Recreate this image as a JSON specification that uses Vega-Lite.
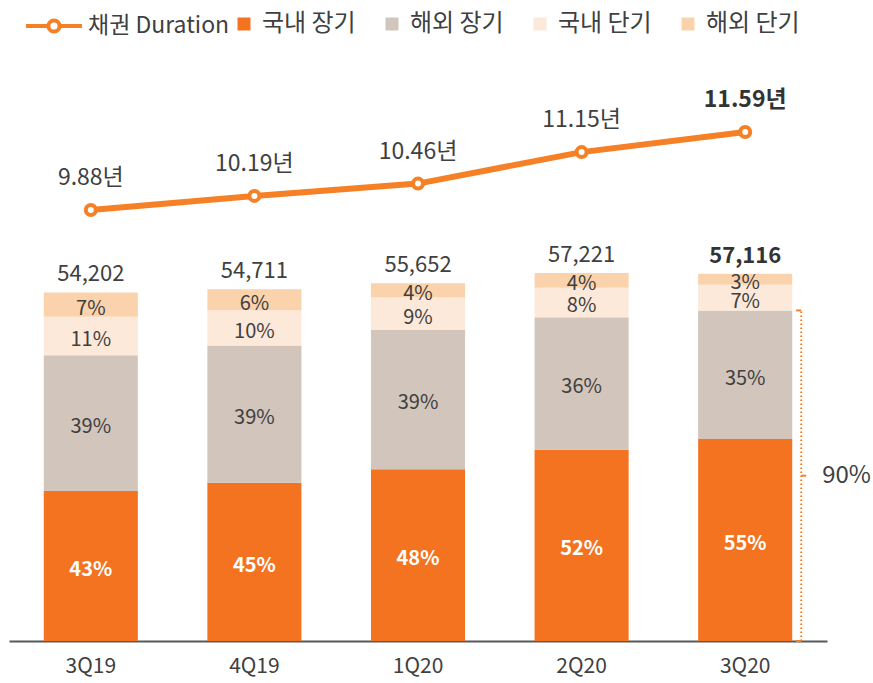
{
  "$schema": "https://vega.github.io/schema/vega-lite/v6.json",
  "width": 818,
  "height": 581,
  "autosize": "none",
  "padding": {"left": 9, "top": 60, "right": 46, "bottom": 42},
  "background": "white",
  "config": {
    "view": {"stroke": null},
    "font": "Noto Sans CJK KR",
    "text": {"font": "Noto Sans CJK KR"},
    "legend": {"labelFont": "Noto Sans CJK KR", "padding": 0}
  },
  "datasets": {
    "bars": [
      {"q": "3Q19", "seg": "국내 장기", "order": 1, "amt": 23307, "p": 0.43},
      {"q": "3Q19", "seg": "해외 장기", "order": 2, "amt": 21139, "p": 0.39},
      {"q": "3Q19", "seg": "국내 단기", "order": 3, "amt": 5962, "p": 0.11},
      {"q": "3Q19", "seg": "해외 단기", "order": 4, "amt": 3794, "p": 0.07},
      {"q": "4Q19", "seg": "국내 장기", "order": 1, "amt": 24620, "p": 0.45},
      {"q": "4Q19", "seg": "해외 장기", "order": 2, "amt": 21337, "p": 0.39},
      {"q": "4Q19", "seg": "국내 단기", "order": 3, "amt": 5471, "p": 0.10},
      {"q": "4Q19", "seg": "해외 단기", "order": 4, "amt": 3283, "p": 0.06},
      {"q": "1Q20", "seg": "국내 장기", "order": 1, "amt": 26713, "p": 0.48},
      {"q": "1Q20", "seg": "해외 장기", "order": 2, "amt": 21704, "p": 0.39},
      {"q": "1Q20", "seg": "국내 단기", "order": 3, "amt": 5009, "p": 0.09},
      {"q": "1Q20", "seg": "해외 단기", "order": 4, "amt": 2226, "p": 0.04},
      {"q": "2Q20", "seg": "국내 장기", "order": 1, "amt": 29755, "p": 0.52},
      {"q": "2Q20", "seg": "해외 장기", "order": 2, "amt": 20600, "p": 0.36},
      {"q": "2Q20", "seg": "국내 단기", "order": 3, "amt": 4578, "p": 0.08},
      {"q": "2Q20", "seg": "해외 단기", "order": 4, "amt": 2288, "p": 0.04},
      {"q": "3Q20", "seg": "국내 장기", "order": 1, "amt": 31414, "p": 0.55},
      {"q": "3Q20", "seg": "해외 장기", "order": 2, "amt": 19991, "p": 0.35},
      {"q": "3Q20", "seg": "국내 단기", "order": 3, "amt": 3998, "p": 0.07},
      {"q": "3Q20", "seg": "해외 단기", "order": 4, "amt": 1713, "p": 0.03}
    ],
    "totals": [
      {"q": "3Q19", "total": 54202, "latest": false},
      {"q": "4Q19", "total": 54711, "latest": false},
      {"q": "1Q20", "total": 55652, "latest": false},
      {"q": "2Q20", "total": 57221, "latest": false},
      {"q": "3Q20", "total": 57116, "latest": true}
    ],
    "dur": [
      {"q": "3Q19", "series": "채권 Duration", "d": 9.88, "label": "9.88년", "latest": false},
      {"q": "4Q19", "series": "채권 Duration", "d": 10.19, "label": "10.19년", "latest": false},
      {"q": "1Q20", "series": "채권 Duration", "d": 10.46, "label": "10.46년", "latest": false},
      {"q": "2Q20", "series": "채권 Duration", "d": 11.15, "label": "11.15년", "latest": false},
      {"q": "3Q20", "series": "채권 Duration", "d": 11.59, "label": "11.59년", "latest": true}
    ]
  },
  "layer": [
    {
      "layer": [
        {
          "data": {"name": "bars"},
          "mark": {"type": "bar"},
          "encoding": {
            "x": {
              "field": "q", "type": "nominal", "sort": null, "title": null,
              "scale": {"paddingInner": 0.425, "paddingOuter": 0.2125},
              "axis": {
                "labelAngle": 0, "labelFont": "Noto Sans CJK KR", "labelFontSize": 21,
                "labelColor": "#404040", "labelPadding": 14, "ticks": false,
                "domainColor": "#595959", "domainWidth": 2, "grid": false
              }
            },
            "y": {
              "field": "amt", "type": "quantitative", "stack": "zero",
              "scale": {"domain": [0, 90350], "nice": false, "zero": true},
              "axis": null
            },
            "color": {
              "field": "seg", "type": "nominal",
              "scale": {
                "domain": ["국내 장기", "해외 장기", "국내 단기", "해외 단기"],
                "range": ["#F37321", "#D2C5BB", "#FDE9DA", "#FAD3AD"]
              },
              "legend": {
                "title": null, "orient": "none", "direction": "horizontal", "columns": 4,
                "legendX": 223, "legendY": -48,
                "symbolType": "square", "symbolSize": 169, "symbolStrokeWidth": 0,
                "labelFontSize": 24, "labelColor": "#404040", "labelOffset": 6,
                "columnPadding": 24
              }
            },
            "order": {"field": "order", "type": "quantitative", "sort": "ascending"}
          }
        },
        {
          "data": {"name": "bars"},
          "transform": [
            {"stack": "amt", "groupby": ["q"], "sort": [{"field": "order", "order": "ascending"}], "as": ["s0", "s1"]},
            {"calculate": "(datum.s0 + datum.s1) / 2", "as": "mid"},
            {"filter": "datum.order > 1"}
          ],
          "mark": {"type": "text", "fontSize": 20, "color": "#404040", "baseline": "middle", "dy": 4},
          "encoding": {
            "x": {"field": "q", "type": "nominal", "sort": null, "title": null},
            "y": {"field": "mid", "type": "quantitative", "scale": {"domain": [0, 90350], "nice": false}, "axis": null},
            "text": {"field": "p", "type": "quantitative", "format": ".0%"}
          }
        },
        {
          "data": {"name": "bars"},
          "transform": [
            {"stack": "amt", "groupby": ["q"], "sort": [{"field": "order", "order": "ascending"}], "as": ["s0", "s1"]},
            {"calculate": "(datum.s0 + datum.s1) / 2", "as": "mid"},
            {"filter": "datum.order == 1"}
          ],
          "mark": {"type": "text", "fontSize": 20, "fontWeight": "bold", "color": "white", "baseline": "middle", "dy": 4},
          "encoding": {
            "x": {"field": "q", "type": "nominal", "sort": null, "title": null},
            "y": {"field": "mid", "type": "quantitative", "scale": {"domain": [0, 90350], "nice": false}, "axis": null},
            "text": {"field": "p", "type": "quantitative", "format": ".0%"}
          }
        },
        {
          "data": {"name": "totals"},
          "transform": [{"filter": "!datum.latest"}],
          "mark": {"type": "text", "fontSize": 22, "color": "#404040", "baseline": "alphabetic", "dy": -11},
          "encoding": {
            "x": {"field": "q", "type": "nominal", "sort": null, "title": null},
            "y": {"field": "total", "type": "quantitative", "scale": {"domain": [0, 90350], "nice": false}, "axis": null},
            "text": {"field": "total", "type": "quantitative", "format": ","}
          }
        },
        {
          "data": {"name": "totals"},
          "transform": [{"filter": "datum.latest"}],
          "mark": {"type": "text", "fontSize": 22, "fontWeight": "bold", "color": "#333333", "baseline": "alphabetic", "dy": -11},
          "encoding": {
            "x": {"field": "q", "type": "nominal", "sort": null, "title": null},
            "y": {"field": "total", "type": "quantitative", "scale": {"domain": [0, 90350], "nice": false}, "axis": null},
            "text": {"field": "total", "type": "quantitative", "format": ","}
          }
        },
        {
          "data": {"name": "bars"},
          "transform": [
            {"filter": "datum.q == '3Q20' && datum.order <= 2"},
            {"aggregate": [{"op": "sum", "field": "amt", "as": "tot"}, {"op": "sum", "field": "p", "as": "ps"}], "groupby": ["q"]},
            {"calculate": "datum.tot / 2", "as": "half"},
            {"calculate": "0", "as": "base"}
          ],
          "layer": [
            {
              "mark": {"type": "rule", "color": "#F58025", "strokeWidth": 2, "strokeDash": [1.5, 2.5], "xOffset": 56},
              "encoding": {
                "x": {"field": "q", "type": "nominal", "sort": null, "title": null},
                "y": {"field": "base", "type": "quantitative", "scale": {"domain": [0, 90350], "nice": false}, "axis": null},
                "y2": {"field": "tot"}
              }
            },
            {
              "mark": {"type": "point", "shape": "M-1,0H0", "size": 100, "filled": false, "stroke": "#F58025", "strokeWidth": 2, "xOffset": 56, "opacity": 1},
              "encoding": {
                "x": {"field": "q", "type": "nominal", "sort": null, "title": null},
                "y": {"field": "tot", "type": "quantitative", "scale": {"domain": [0, 90350], "nice": false}, "axis": null}
              }
            },
            {
              "mark": {"type": "point", "shape": "M-1,0H0", "size": 100, "filled": false, "stroke": "#F58025", "strokeWidth": 2, "xOffset": 56, "opacity": 1},
              "encoding": {
                "x": {"field": "q", "type": "nominal", "sort": null, "title": null},
                "y": {"field": "base", "type": "quantitative", "scale": {"domain": [0, 90350], "nice": false}, "axis": null}
              }
            },
            {
              "mark": {"type": "point", "shape": "M0,0H1", "size": 100, "filled": false, "stroke": "#F58025", "strokeWidth": 2, "xOffset": 56, "opacity": 1},
              "encoding": {
                "x": {"field": "q", "type": "nominal", "sort": null, "title": null},
                "y": {"field": "half", "type": "quantitative", "scale": {"domain": [0, 90350], "nice": false}, "axis": null}
              }
            },
            {
              "mark": {"type": "text", "fontSize": 24, "color": "#404040", "align": "left", "baseline": "middle", "xOffset": 77},
              "encoding": {
                "x": {"field": "q", "type": "nominal", "sort": null, "title": null},
                "y": {"field": "half", "type": "quantitative", "scale": {"domain": [0, 90350], "nice": false}, "axis": null},
                "text": {"field": "ps", "type": "quantitative", "format": ".0%"}
              }
            }
          ]
        }
      ]
    },
    {
      "data": {"name": "dur"},
      "layer": [
        {
          "mark": {"type": "line", "strokeWidth": 6},
          "encoding": {
            "x": {"field": "q", "type": "nominal", "sort": null, "title": null},
            "y": {"field": "d", "type": "quantitative", "scale": {"domain": [0.43, 13.17], "nice": false, "zero": false}, "axis": null},
            "stroke": {
              "field": "series", "type": "nominal",
              "scale": {"range": ["#F58025"]},
              "legend": {
                "title": null, "orient": "none", "legendX": 15, "legendY": -64,
                "symbolType": "M-1,0H-0.21M0.21,0H1M0.2,0A0.2,0.2,0,1,1,-0.2,0A0.2,0.2,0,1,1,0.2,0Z",
                "symbolSize": 3136, "symbolStrokeWidth": 4, "symbolFillColor": "white",
                "labelFontSize": 23, "labelColor": "#404040", "labelOffset": 4
              }
            }
          }
        },
        {
          "mark": {"type": "point", "filled": true, "fill": "white", "stroke": "#F58025", "strokeWidth": 4, "size": 100, "opacity": 1},
          "encoding": {
            "x": {"field": "q", "type": "nominal", "sort": null, "title": null},
            "y": {"field": "d", "type": "quantitative", "scale": {"domain": [0.43, 13.17], "nice": false, "zero": false}, "axis": null}
          }
        },
        {
          "transform": [{"filter": "!datum.latest"}],
          "mark": {"type": "text", "fontSize": 23, "color": "#404040", "baseline": "alphabetic", "dy": -25},
          "encoding": {
            "x": {"field": "q", "type": "nominal", "sort": null, "title": null},
            "y": {"field": "d", "type": "quantitative", "scale": {"domain": [0.43, 13.17], "nice": false, "zero": false}, "axis": null},
            "text": {"field": "label", "type": "nominal"}
          }
        },
        {
          "transform": [{"filter": "datum.latest"}],
          "mark": {"type": "text", "fontSize": 23, "fontWeight": "bold", "color": "#333333", "baseline": "alphabetic", "dy": -25},
          "encoding": {
            "x": {"field": "q", "type": "nominal", "sort": null, "title": null},
            "y": {"field": "d", "type": "quantitative", "scale": {"domain": [0.43, 13.17], "nice": false, "zero": false}, "axis": null},
            "text": {"field": "label", "type": "nominal"}
          }
        }
      ]
    }
  ],
  "resolve": {"scale": {"y": "independent"}}
}
